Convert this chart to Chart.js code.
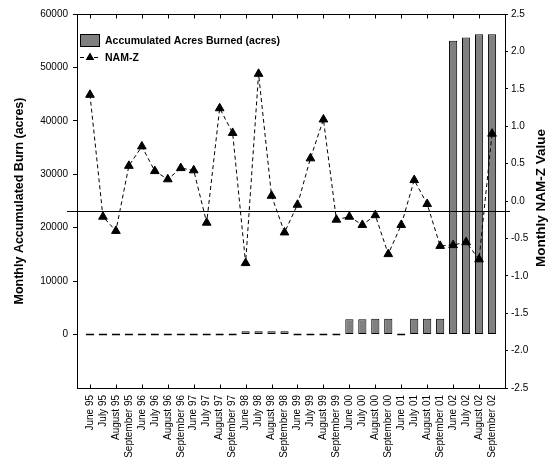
<!DOCTYPE html>
<html>
<head>
<meta charset="utf-8">
<title>Monthly Accumulated Burn and NAM-Z</title>
<script src="https://cdn.jsdelivr.net/npm/chart.js@4.4.1/dist/chart.umd.min.js"></script>
<style>
  html, body { margin: 0; padding: 0; background: #fff; }
  #chart-wrap { position: relative; width: 552px; height: 467px; }
</style>
</head>
<body>
<div id="chart-wrap"><canvas id="burn-chart"></canvas></div>
<script>
// Fire season months, 1995 - 2002
const months = [
  'June 95', 'July 95', 'August 95', 'September 95',
  'June 96', 'July 96', 'August 96', 'September 96',
  'June 97', 'July 97', 'August 97', 'September 97',
  'June 98', 'July 98', 'August 98', 'September 98',
  'June 99', 'July 99', 'August 99', 'September 99',
  'June 00', 'July 00', 'August 00', 'September 00',
  'June 01', 'July 01', 'August 01', 'September 01',
  'June 02', 'July 02', 'August 02', 'September 02'
];

// Accumulated acres burned (left axis)
const acresBurned = [
  0, 0, 0, 0,
  0, 0, 0, 0,
  0, 0, 0, 0,
  600, 600, 600, 600,
  0, 0, 0, 0,
  2850, 2850, 2950, 2950,
  0, 2950, 2950, 2950,
  55000, 55600, 56200, 56200
];

// Monthly NAM-Z value (right axis)
const namZ = [
  1.42, -0.21, -0.40, 0.47,
  0.73, 0.40, 0.29, 0.44,
  0.41, -0.29, 1.24, 0.91,
  -0.83, 1.70, 0.07, -0.42,
  -0.05, 0.57, 1.09, -0.25,
  -0.21, -0.32, -0.19, -0.71,
  -0.32, 0.28, -0.04, -0.60,
  -0.59, -0.55, -0.78, 0.90
];

// horizontal reference line (NAM-Z scale)
const namZMean = -0.13;

const burnTicks = { min: -10000, max: 60000, step: 10000 };
const namZTicks = { min: -2.5, max: 2.5, step: 0.5 };

Chart.defaults.font.family = "'Liberation Sans', Arial, Helvetica, sans-serif";
Chart.defaults.font.size = 10;
Chart.defaults.color = '#000';

const BAR_LABEL = 'Accumulated Acres Burned (acres)';
const LINE_LABEL = 'NAM-Z';

// frame, inward ticks on top/bottom, reference line, legend and right title
const decorPlugin = {
  id: 'decor',
  afterDraw(chart) {
    const { ctx, chartArea: a, scales } = chart;
    const xs = scales.x;
    const top = Math.round(a.top) + 0.5;
    const bottom = Math.round(a.bottom) + 0.5;

    ctx.save();
    ctx.strokeStyle = '#000';
    ctx.lineWidth = 1;

    // top edge of the frame
    ctx.beginPath();
    ctx.moveTo(Math.round(a.left) + 0.5, top);
    ctx.lineTo(Math.round(a.right) + 0.5, top);
    ctx.stroke();

    // tick marks every second month, pointing inside
    ctx.beginPath();
    for (let i = 0; i < months.length; i += 2) {
      const px = Math.round(xs.getPixelForValue(i)) + 0.5;
      ctx.moveTo(px, top);
      ctx.lineTo(px, top + 4);
      ctx.moveTo(px, bottom);
      ctx.lineTo(px, bottom - 4);
    }
    ctx.stroke();

    // reference line
    const py = Math.round(scales.y2.getPixelForValue(namZMean)) + 0.5;
    ctx.beginPath();
    ctx.moveTo(a.left - 10, py);
    ctx.lineTo(a.right + 5, py);
    ctx.stroke();

    // legend
    const lx = a.left + 3;
    ctx.fillStyle = '#808080';
    ctx.fillRect(lx + 0.5, 34.5, 19, 12);
    ctx.strokeRect(lx + 0.5, 34.5, 19, 12);

    ctx.setLineDash([4, 3]);
    ctx.beginPath();
    ctx.moveTo(lx, 57.5);
    ctx.lineTo(lx + 20, 57.5);
    ctx.stroke();
    ctx.setLineDash([]);

    const tx = lx + 10, ty = 57.5, r = 5;
    ctx.fillStyle = '#000';
    ctx.beginPath();
    ctx.moveTo(tx, ty - r);
    ctx.lineTo(tx + r * 0.866, ty + r * 0.5);
    ctx.lineTo(tx - r * 0.866, ty + r * 0.5);
    ctx.closePath();
    ctx.fill();

    ctx.font = "bold 10.5px 'Liberation Sans', Arial, sans-serif";
    ctx.textAlign = 'left';
    ctx.textBaseline = 'middle';
    ctx.fillText(BAR_LABEL, lx + 25, 41);
    ctx.fillText(LINE_LABEL, lx + 25, 58);

    // right axis title, reading bottom to top
    ctx.translate(541, 198);
    ctx.rotate(-Math.PI / 2);
    ctx.font = "bold 13.5px 'Liberation Sans', Arial, sans-serif";
    ctx.textAlign = 'center';
    ctx.fillText('Monthly NAM-Z Value', 0, 0);
    ctx.restore();
  }
};

const canvas = document.getElementById('burn-chart');

new Chart(canvas, {
  type: 'bar',
  data: {
    datasets: [
      {
        type: 'line',
        label: LINE_LABEL,
        data: namZ.map(function (v, i) { return { x: i, y: v }; }),
        yAxisID: 'y2',
        borderColor: '#000',
        borderWidth: 1,
        borderDash: [4, 3],
        tension: 0,
        fill: false,
        pointStyle: 'triangle',
        pointRadius: 5,
        pointBackgroundColor: '#000',
        pointBorderColor: '#000',
        pointBorderWidth: 1,
        order: 0
      },
      {
        type: 'bar',
        label: BAR_LABEL,
        data: acresBurned.map(function (v, i) { return { x: i, y: v }; }),
        yAxisID: 'y',
        backgroundColor: '#808080',
        borderColor: '#000',
        borderWidth: 1,
        borderSkipped: false,
        minBarLength: 2,
        barPercentage: 0.63,
        categoryPercentage: 1,
        order: 1
      }
    ]
  },
  options: {
    responsive: true,
    maintainAspectRatio: false,
    animation: false,
    layout: { padding: { top: 14, left: 0, right: 0, bottom: 0 } },
    plugins: {
      legend: { display: false },
      tooltip: { enabled: false }
    },
    scales: {
      x: {
        type: 'linear',
        position: 'bottom',
        min: -1,
        max: months.length,
        offset: false,
        afterFit: function (s) { s.height = 79; },
        grid: { display: false, drawTicks: false, tickLength: 0 },
        border: { display: true, color: '#000', width: 1 },
        ticks: {
          stepSize: 1,
          autoSkip: false,
          minRotation: 90,
          maxRotation: 90,
          padding: 7,
          callback: function (v) { return months[Math.round(v)] || ''; }
        }
      },
      y: {
        type: 'linear',
        position: 'left',
        min: burnTicks.min,
        max: burnTicks.max,
        afterFit: function (s) { s.width = 77; },
        grid: {
          drawOnChartArea: false,
          tickLength: 4,
          color: function (c) { return c.tick && c.tick.value < 0 ? 'rgba(0,0,0,0)' : '#000'; }
        },
        border: { display: true, color: '#000', width: 1 },
        ticks: {
          stepSize: burnTicks.step,
          padding: 5,
          callback: function (v) { return v < 0 ? '' : String(v); }
        },
        title: {
          display: true,
          text: 'Monthly Accumulated Burn (acres)',
          font: { size: 12.5, weight: 'bold' },
          padding: { top: 12, bottom: 0 }
        }
      },
      y2: {
        type: 'linear',
        position: 'right',
        min: namZTicks.min,
        max: namZTicks.max,
        afterFit: function (s) { s.width = 47; },
        grid: { drawOnChartArea: false, tickLength: 3, color: '#000' },
        border: { display: true, color: '#000', width: 1 },
        ticks: {
          stepSize: namZTicks.step,
          padding: 3,
          callback: function (v) { return v.toFixed(1); }
        }
      }
    }
  },
  plugins: [decorPlugin]
});
</script>
</body>
</html>
